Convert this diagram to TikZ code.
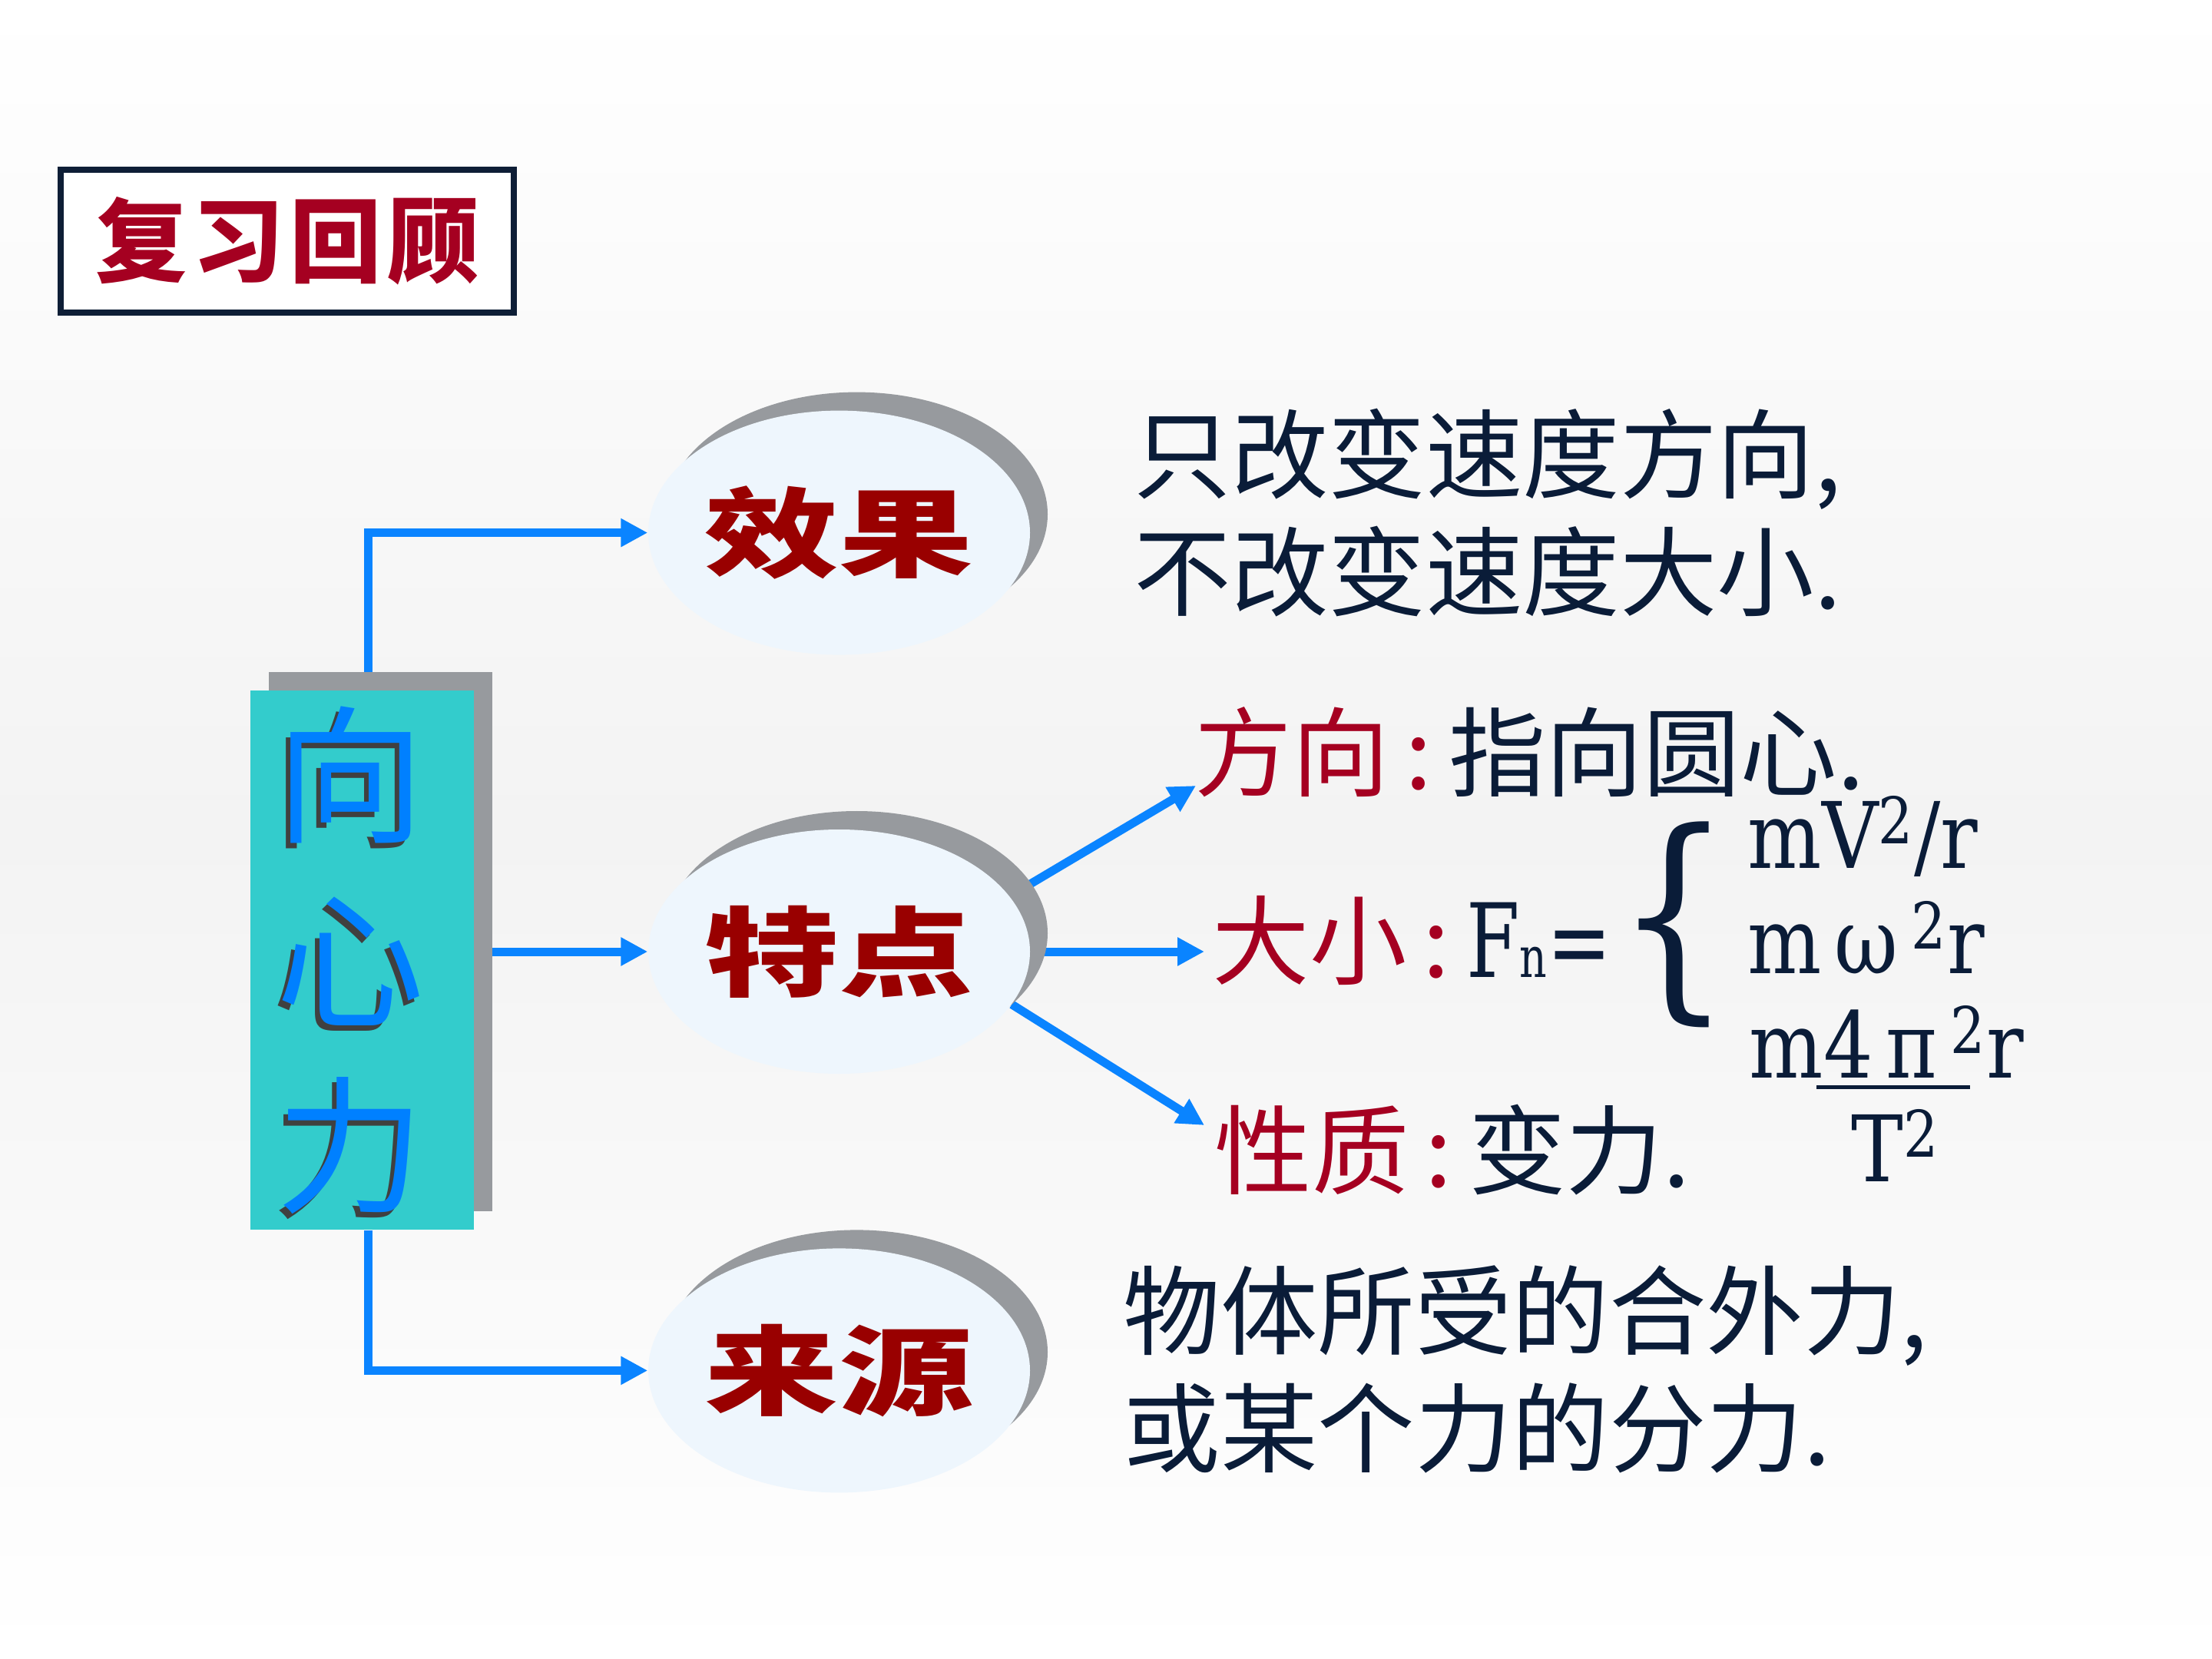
\documentclass[tikz,border=0pt]{standalone}
\usepackage{fontspec}
\usepackage{graphicx}
\setmainfont{Noto Sans CJK SC}
\newfontfamily\fmlfont{DejaVu Serif}
\usetikzlibrary{arrows.meta,positioning,shapes.geometric,shadows,backgrounds}
\definecolor{PageMid}{HTML}{F3F3F3}
\definecolor{InkNavy}{HTML}{0A1C38}
\definecolor{LabelRed}{HTML}{A50021}
\definecolor{BlobRed}{HTML}{990000}
\definecolor{FrameNavy}{HTML}{0E1E36}
\definecolor{CoreTeal}{HTML}{33CCCC}
\definecolor{CoreBlue}{HTML}{0080FF}
\definecolor{ShadeGray}{HTML}{979A9E}
\definecolor{BlobFill}{HTML}{EEF6FD}
\definecolor{FlowBlue}{HTML}{0A84FF}
\newcommand{\widen}[1]{\scalebox{1.38}[1]{#1}}
\newcommand{\slim}[1]{\scalebox{0.85}[1]{#1}}
\tikzset{
  titlebox/.style={
    draw=FrameNavy,
    line width=0.08cm,
    fill=white,
    minimum width=5.9cm,
    minimum height=1.86cm,
    font=\bfseries\fontsize{34}{34}\selectfont,
    text=LabelRed,
  },
  corebox/.style={
    fill=CoreTeal,
    minimum width=2.91cm,
    minimum height=7.02cm,
    inner sep=0pt,
    drop shadow={shadow xshift=0.24cm, shadow yshift=0.24cm,
      fill=ShadeGray, opacity=1},
  },
  coretext/.style={
    align=center,
    inner sep=0pt,
    font=\fontsize{55}{68.6}\selectfont,
  },
  blob/.style={
    ellipse,
    fill=BlobFill,
    minimum width=4.97cm,
    minimum height=3.18cm,
    inner sep=0pt,
    text=BlobRed,
    font=\bfseries\fontsize{36}{36}\selectfont,
    drop shadow={shadow xshift=0.23cm, shadow yshift=0.24cm,
      fill=ShadeGray, opacity=1},
  },
  note/.style={
    anchor=west,
    align=left,
    inner sep=0pt,
    text=InkNavy,
    font=\fontsize{36}{43.5}\selectfont,
  },
  formula/.style={
    anchor=base west,
    inner sep=0pt,
    text=InkNavy,
    font=\fmlfont\fontsize{34}{40}\selectfont,
  },
  flow/.style={
    -{Triangle[length=3.5mm,width=3.5mm]},
    line width=0.11cm,
    draw=FlowBlue,
  }
}

\begin{document}
\begin{tikzpicture}
  \useasboundingbox (0,0) rectangle (28.8,-21.6);

  \node[titlebox] (title) at (3.74,-3.14)
    {复\kern0.06em 习\kern0.06em 回\kern0.06em 顾};

  % central box
  \node[corebox] (core) at (4.715,-12.5) {};
  \node[coretext, text=black!75] (coreshade)
    at ([shift={(-0.21cm,-0.07cm)}]core.center) {向\\心\\力};
  \node[coretext, text=CoreBlue] (coreword)
    at ([xshift=-0.15cm]core.center) {向\\心\\力};

  % the three ellipses
  \node[blob] (feat) at (10.925,-12.39) {\widen{特点}};
  \node[blob, above=2.26cm of feat] (eff) {\widen{效果}};
  \node[blob, below=2.26cm of feat] (src) {\widen{来源}};

  \node[note] (effnote) at (14.76,-6.675)
    {只改变速度方向,\\不改变速度大小.};
  \node[note] (srcnote) at (14.62,-17.825)
    {物体所受的合外力,\\或某个力的分力.};

  \node[note] (dir) at (15.55,-9.79)
    {\textcolor{LabelRed}{方向\,:\,}指向圆心.};
  \node[note] (mag) at (15.78,-12.25)
    {\textcolor{LabelRed}{大小\,:}\,{\fmlfont\fontsize{38}{40}\selectfont
      \scalebox{0.75}[1]{F{\fontsize{21}{21}\selectfont n}=}}};
  \node[note] (prop) at (15.81,-14.97)
    {\textcolor{LabelRed}{性质\,:\,}变力.};

  % formulas
  \node[inner sep=0pt, text=InkNavy] (brace) at (21.80,-12.04)
    {\resizebox*{1.5cm}{2.68cm}{\fmlfont\{}};
  \node[formula] (fv) at (22.75,-11.30) {\slim{mV\textsuperscript{2}/r}};
  \node[formula] (fw) at (22.75,-12.67) {\slim{m\,ω\,\textsuperscript{2}r}};
  \node[formula] (fp) at (22.77,-14.03) {\slim{m4\,π\,\textsuperscript{2}r}};
  \node[formula, anchor=base] (ft) at (24.68,-15.38) {\slim{T\textsuperscript{2}}};
  \draw[InkNavy, line width=0.05cm] (23.65,-14.155) -- (25.65,-14.155);

  \coordinate (dirtip) at (15.57,-10.23);
  \coordinate (magtip) at (15.68,-12.39);
  \coordinate (proptip) at (15.68,-14.65);

  \begin{pgfonlayer}{background}
    \shade[top color=white, bottom color=white, middle color=PageMid]
      (0,0) rectangle (28.8,-21.6);
    \draw[flow] ([xshift=0.08cm]core.north) |- (eff.west);
    \draw[flow] (core.center |- feat.west) -- (feat.west);
    \draw[flow] ([xshift=0.08cm]core.south) |- (src.west);
    \draw[flow] (feat.18) -- (dirtip);
    \draw[flow] (feat.center) -- (magtip);
    \draw[flow] (feat.-17) -- (proptip);
  \end{pgfonlayer}
\end{tikzpicture}
\end{document}
